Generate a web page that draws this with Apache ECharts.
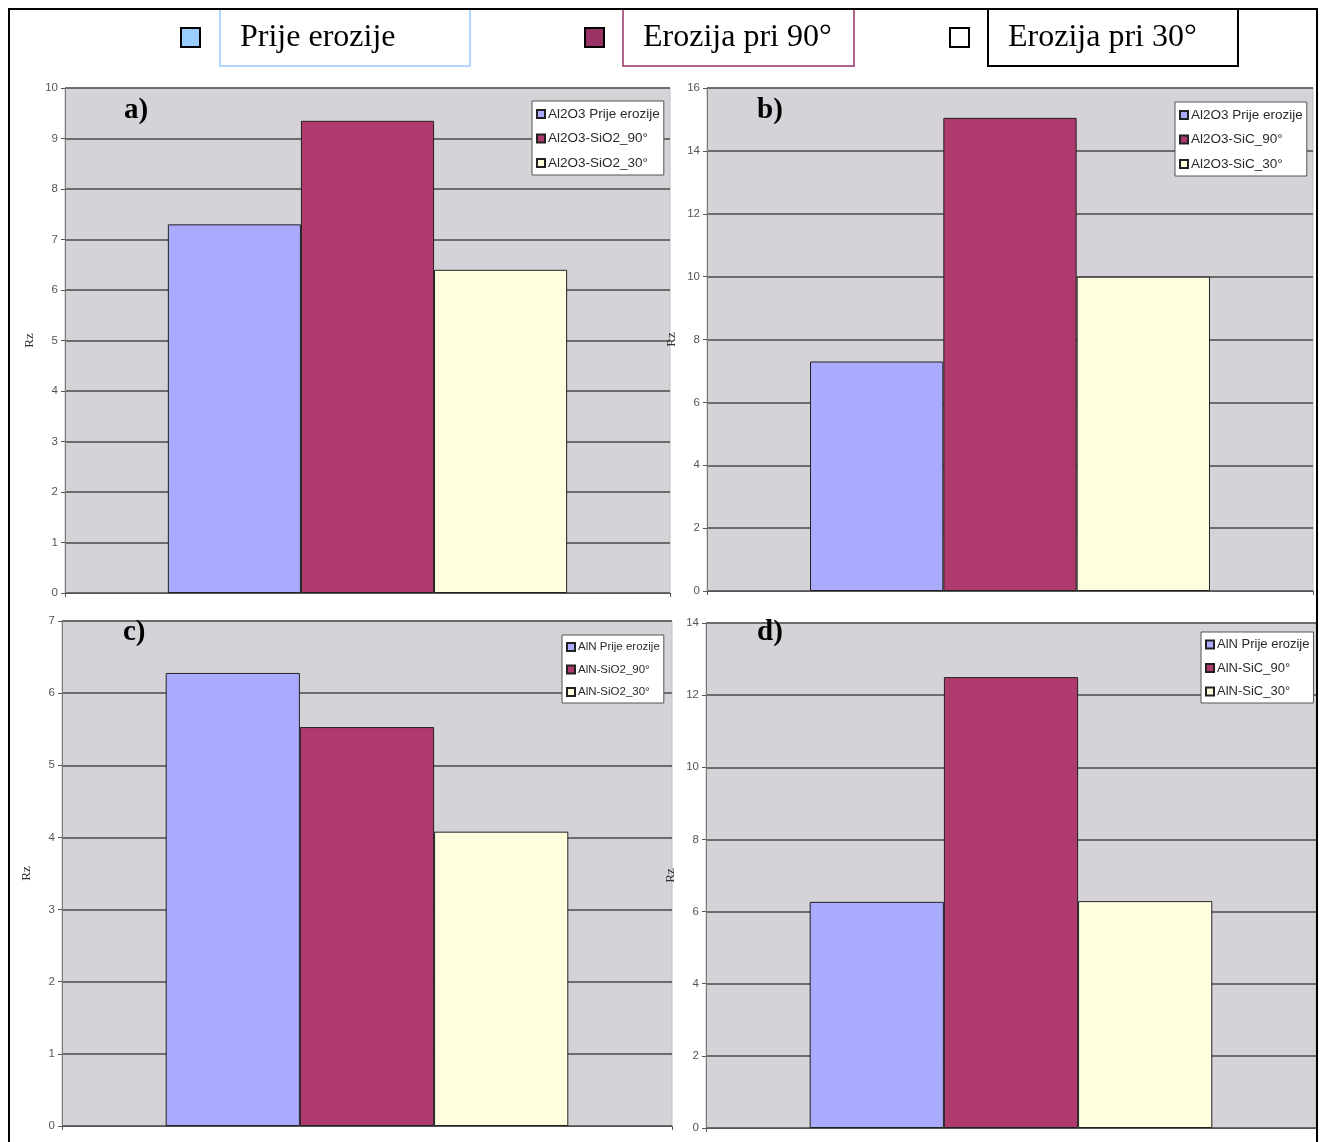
<!DOCTYPE html>
<html>
<head>
<meta charset="utf-8">
<script src="https://cdn.jsdelivr.net/npm/echarts@6/dist/echarts.min.js"></script>
<style>
html,body{margin:0;padding:0;background:#fff;}
#chart{width:1323px;height:1142px;}
</style>
</head>
<body>
<div id="chart"></div>
<script>
// ---- data ----
const panelLabels = ['a)', 'b)', 'c)', 'd)'];
const seriesNamesA = ['Al2O3 Prije erozije', 'Al2O3-SiO2_90°', 'Al2O3-SiO2_30°'];
const seriesNamesB = ['Al2O3 Prije erozije', 'Al2O3-SiC_90°', 'Al2O3-SiC_30°'];
const seriesNamesC = ['AlN Prije erozije', 'AlN-SiO2_90°', 'AlN-SiO2_30°'];
const seriesNamesD = ['AlN Prije erozije', 'AlN-SiC_90°', 'AlN-SiC_30°'];
const valuesA = [7.3, 9.35, 6.4];
const valuesB = [7.3, 15.05, 10.0];
const valuesC = [6.28, 5.53, 4.08];
const valuesD = [6.27, 12.5, 6.29];
const yMax = [10, 16, 7, 14];
const yInterval = [1, 2, 1, 2];
const topLegendLabels = ['Prije erozije', 'Erozija pri 90°', 'Erozija pri 30°'];
const yAxisName = 'Rz';

const barColors = ['#aaaaff', '#ae3a6e', '#ffffe0'];

const grids = [
  {left: 65, top: 88, width: 605, height: 505},
  {left: 707, top: 88, width: 606, height: 503},
  {left: 62, top: 621, width: 610, height: 505},
  {left: 706, top: 623, width: 610, height: 505}
];
const legendPos = [
  {left: 532, top: 101, fs: 13.5},
  {left: 1175, top: 102, fs: 13.5},
  {left: 562, top: 635, fs: 11.5},
  {left: 1201, top: 632, fs: 13}
];
const labelPos = [[124, 96], [757, 96], [123, 618], [757, 618]];

const names = [seriesNamesA, seriesNamesB, seriesNamesC, seriesNamesD];
const values = [valuesA, valuesB, valuesC, valuesD];

const option = {
  animation: false,
  backgroundColor: '#ffffff',
  grid: grids.map(g => Object.assign({show: true, backgroundColor: '#d6d3d8', borderColor: '#c0c0c0', borderWidth: 1}, g)),
  xAxis: grids.map((g, i) => ({
    gridIndex: i, type: 'category', data: [''],
    axisLine: {lineStyle: {color: '#555', width: 1}},
    axisTick: {show: true, length: 4, alignWithLabel: false, lineStyle: {color: '#555'}},
    axisLabel: {show: false}
  })),
  yAxis: grids.map((g, i) => ({
    gridIndex: i, type: 'value', min: 0, max: yMax[i], interval: yInterval[i],
    name: yAxisName, nameLocation: 'middle', nameGap: 29, nameRotate: 90,
    nameTextStyle: {fontFamily: 'Liberation Serif, serif', fontSize: 13, color: '#333'},
    axisLine: {show: true, lineStyle: {color: '#777', width: 1}},
    axisTick: {show: true, length: 4, lineStyle: {color: '#555'}},
    axisLabel: {fontFamily: 'Liberation Sans, Arial, sans-serif', fontSize: 11.5, color: '#555', margin: 7},
    splitLine: {show: true, lineStyle: {color: '#4a4a4a', width: 1.5}}
  })),
  legend: legendPos.map((p, i) => ({
    left: p.left, top: p.top, orient: 'vertical',
    data: names[i],
    backgroundColor: '#ffffff', borderColor: '#555', borderWidth: 1,
    padding: [6, 4, 5, 4], itemGap: 10.5, itemWidth: 8, itemHeight: 8,
    icon: 'rect', selectedMode: false,
    textStyle: {fontFamily: 'Liberation Sans, Arial, sans-serif', fontSize: p.fs, color: '#2a2a2a', padding: [0, 0, 0, -2]}
  })),
  series: [],
  graphic: []
};

for (let p = 0; p < 4; p++) {
  for (let s = 0; s < 3; s++) {
    option.series.push({
      type: 'bar', name: names[p][s], xAxisIndex: p, yAxisIndex: p,
      data: [values[p][s]],
      barGap: '0%', barCategoryGap: '34%',
      itemStyle: {color: barColors[s], borderColor: '#222', borderWidth: 1}
    });
  }
}

// outer frame
option.graphic.push({type: 'polyline', shape: {points: [[9, 1142], [9, 9], [1317, 9], [1317, 1142]]}, style: {fill: null, stroke: '#000', lineWidth: 2}, z: 100});

// panel labels
labelPos.forEach((lp, i) => {
  option.graphic.push({type: 'text', left: lp[0], top: lp[1], z: 100,
    style: {text: panelLabels[i], font: 'bold 29px "Liberation Serif", serif', fill: '#000'}});
});

// top legend
const topIcons = [[181, '#99ccff', '#000'], [585, '#993366', '#000'], [950, '#ffffff', '#000']];
const topBoxes = [[220, 250, '#99ccff', 1.5], [623, 231, '#993366', 1.5], [988, 250, '#000000', 2]];
for (let i = 0; i < 3; i++) {
  option.graphic.push({type: 'rect', shape: {x: topIcons[i][0], y: 28, width: 19, height: 19},
    style: {fill: topIcons[i][1], stroke: topIcons[i][2], lineWidth: 2}, z: 100});
  option.graphic.push({type: 'rect', shape: {x: topBoxes[i][0], y: 9, width: topBoxes[i][1], height: 57},
    style: {fill: '#fff', stroke: topBoxes[i][2], lineWidth: topBoxes[i][3]}, z: 99});
  option.graphic.push({type: 'text', left: topBoxes[i][0] + 20, top: 22, z: 101,
    style: {text: topLegendLabels[i], font: '32px "Liberation Serif", serif', fill: '#000'}});
}

const chart = echarts.init(document.getElementById('chart'), null, {renderer: 'canvas'});
chart.setOption(option);
</script>
</body>
</html>
